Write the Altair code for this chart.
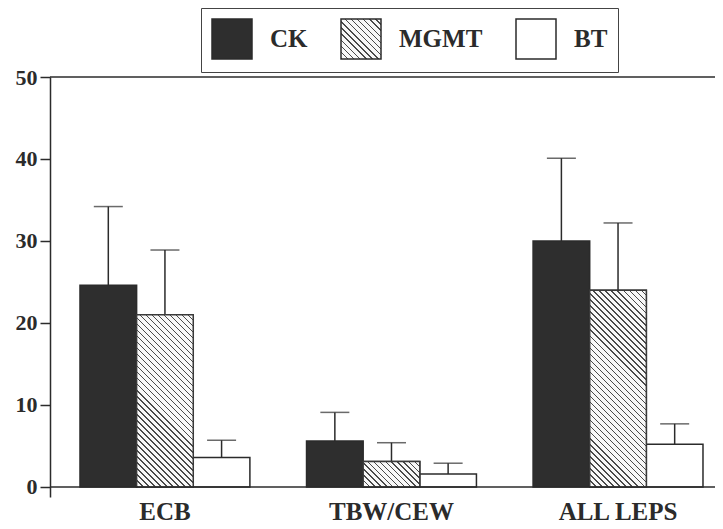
import json
import altair as alt
import pandas as pd

# ---------------- data ----------------
groups = ["ECB", "TBW/CEW", "ALL LEPS"]
series = ["CK", "MGMT", "BT"]
ck_mean = [24.6, 5.6, 30.0]
mgmt_mean = [21.0, 3.1, 24.0]
bt_mean = [3.6, 1.6, 5.2]
ck_err = [9.6, 3.5, 10.1]
mgmt_err = [7.9, 2.3, 8.2]
bt_err = [2.1, 1.3, 2.5]
y_ticks = [0, 10, 20, 30, 40, 50]
frame_lines = [0, 50]

means = {"CK": ck_mean, "MGMT": mgmt_mean, "BT": bt_mean}
errs = {"CK": ck_err, "MGMT": mgmt_err, "BT": bt_err}
rows = []
for gi, g in enumerate(groups):
    for s in series:
        m = means[s][gi]
        rows.append({"group": g, "series": s, "mean": m, "upper": round(m + errs[s][gi], 2)})
df = pd.DataFrame(rows)
lines_df = pd.DataFrame({"v": frame_lines})

# ---------------- layout / style ----------------
W, H = 665, 420
Y_MIN, Y_MAX = -1.22, 50
PX = H / (Y_MAX - Y_MIN)
P_IN, P_OUT, ALIGN = 0.25, 0.0927, 0.714
step = W / (len(groups) - P_IN + 2 * P_OUT)
bw = step * (1 - P_IN) / len(series)

SERIF = "Liberation Serif"
INK = "#2b2b2b"
CK_FILL = "#2e2e2e"


def hatch(w, h, spacing=6.0, line=1.0, fg="#4a4a4a", bg="#f8f8f8"):
    """Diagonal (\\) hatch as a linear gradient in bounding-box units."""
    k = (w + h) / (w * w + h * h)
    n = max(1, round((w + h) / spacing))
    L = (w + h) / 2 ** 0.5
    lf = min(0.6, line / L * n)
    stops = []
    for i in range(n):
        a = round(i / n, 5)
        b = round((i + lf) / n, 5)
        c = round((i + 1) / n, 5)
        stops += [
            {"offset": a, "color": fg},
            {"offset": b, "color": fg},
            {"offset": b, "color": bg},
            {"offset": c, "color": bg},
        ]
    return {"gradient": "linear", "x1": 0, "y1": 1,
            "x2": round(k * w, 5), "y2": round(1 - k * h, 5), "stops": stops}


legend_hatch = hatch(40, 40)

xscale = alt.Scale(domain=groups, paddingInner=P_IN, paddingOuter=P_OUT, align=ALIGN)
oscale = alt.Scale(domain=series, paddingInner=0, paddingOuter=0)
yscale = alt.Scale(domain=[Y_MIN, Y_MAX], nice=False, zero=False)

xaxis = alt.Axis(domain=False, ticks=False, tickSize=0, labelPadding=2, labelAngle=0,
                 labelFont=SERIF, labelFontSize=25, labelFontWeight="bold",
                 labelColor=INK, title=None)
yaxis = alt.Axis(values=y_ticks, grid=False, tickSize=10, tickWidth=1.5, tickColor=INK,
                 domainColor=INK, domainWidth=1.5, labelPadding=3,
                 labelFont=SERIF, labelFontSize=22, labelFontWeight="bold",
                 labelColor=INK, title=None)

fill_scale = alt.Scale(domain=series,
                       range=[CK_FILL, {"expr": json.dumps(legend_hatch)}, "#ffffff"])
legend = alt.Legend(orient="none", legendX=151, legendY=-69, direction="horizontal",
                    title=None, symbolType="square", symbolSize=1600,
                    symbolStrokeColor=INK, symbolStrokeWidth=1.5, symbolOpacity=1,
                    labelFont=SERIF, labelFontSize=25, labelFontWeight="bold",
                    labelColor=INK, labelOffset=17, columnPadding=30, padding=10,
                    strokeColor="#444444")

base = alt.Chart(df).encode(
    x=alt.X("group:N", scale=xscale, axis=xaxis),
    xOffset=alt.XOffset("series:N", scale=oscale),
)

bars = base.mark_bar(stroke=INK, strokeWidth=1.5).encode(
    y=alt.Y("mean:Q", scale=yscale, axis=yaxis),
    fill=alt.Fill("series:N", scale=fill_scale, legend=legend),
)

layers = [bars]
for gi, g in enumerate(groups):
    h = mgmt_mean[gi] * PX
    layers.append(
        base.transform_filter((alt.datum.group == g) & (alt.datum.series == "MGMT"))
        .mark_bar(fill=hatch(bw, h), stroke="#3a3a3a", strokeWidth=1.5)
        .encode(y=alt.Y("mean:Q", scale=yscale))
    )

stems = base.mark_rule(color=INK, strokeWidth=1.5).encode(
    y=alt.Y("mean:Q", scale=yscale), y2="upper:Q"
)
caps = base.mark_tick(color=INK, thickness=1.5, size=29).encode(
    y=alt.Y("upper:Q", scale=yscale)
)
frame = alt.Chart(lines_df).mark_rule(color=INK, strokeWidth=1.5).encode(
    y=alt.Y("v:Q", scale=yscale)
)

chart = (
    alt.layer(stems, caps, *layers, frame)
    .properties(
        width=W, height=H,
        autosize=alt.AutoSizeParams(type="none"),
        padding={"left": 42, "top": 69, "right": 0, "bottom": 32},
        background="white",
    )
    .configure_view(strokeWidth=0)
)

chart.save("out.html", embed_options={"renderer": "svg", "actions": False})
